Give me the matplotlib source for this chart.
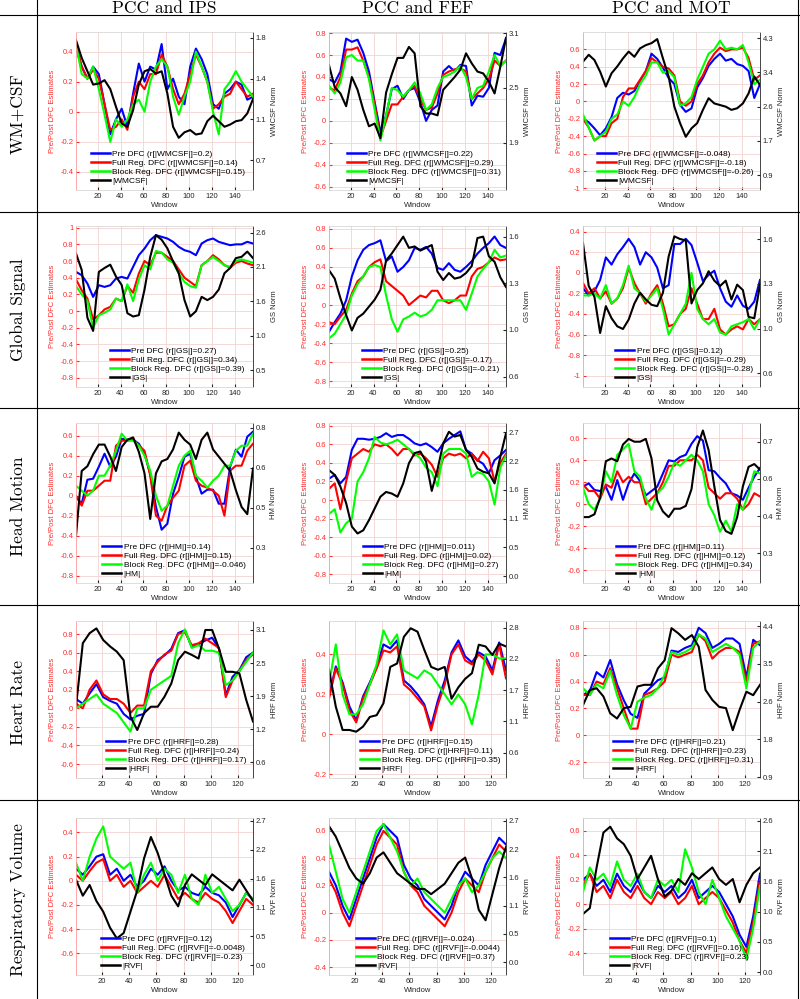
import numpy as np
import matplotlib.pyplot as plt
from matplotlib.lines import Line2D

# windows sampled every 5 steps
x_long = np.arange(1, 157, 5)    # rows 1-3 (156 windows)
x_short = np.arange(1, 132, 5)   # rows 4-5 (131 windows)

row_names = ["WM+CSF", "Global Signal", "Head Motion", "Heart Rate", "Respiratory Volume"]
col_names = ["PCC and IPS", "PCC and FEF", "PCC and MOT"]
reg_names = ["WMCSF", "GS", "HM", "HRF", "RVF"]

# r values shown in the legends: (pre, full reg., block reg.)
corr = [
    [("0.2", "0.14", "0.15"), ("0.22", "0.29", "0.31"), ("-0.048", "-0.18", "-0.26")],
    [("0.27", "0.34", "0.39"), ("0.25", "-0.17", "-0.21"), ("0.12", "-0.29", "-0.28")],
    [("0.14", "0.15", "-0.046"), ("0.011", "0.02", "0.27"), ("0.11", "0.12", "0.34")],
    [("0.28", "0.24", "0.17"), ("0.15", "0.11", "0.35"), ("0.21", "0.23", "0.31")],
    [("0.12", "-0.0048", "-0.23"), ("-0.024", "-0.0044", "0.37"), ("0.1", "0.16", "0.23")],
]

# ---- WM+CSF ----
wm_ips_pre = [0.42, 0.30, 0.22, 0.30, 0.25, 0.05, -0.15, -0.05, 0.02, -0.10, 0.12, 0.32, 0.20, 0.30, 0.28, 0.45,
              0.15, 0.22, 0.10, 0.05, 0.30, 0.42, 0.35, 0.25, 0.05, 0.02, 0.12, 0.15, 0.20, 0.18, 0.08, 0.10]
wm_ips_full = [0.45, 0.30, 0.22, 0.28, 0.22, 0.05, -0.12, -0.10, -0.05, -0.12, 0.10, 0.20, 0.15, 0.25, 0.25, 0.38,
               0.30, 0.15, 0.05, 0.12, 0.25, 0.38, 0.30, 0.20, 0.02, 0.05, 0.10, 0.12, 0.20, 0.15, 0.10, 0.12]
wm_ips_block = [0.45, 0.25, 0.22, 0.30, 0.15, -0.02, -0.20, -0.05, -0.10, -0.05, 0.05, 0.08, 0.00, 0.20, 0.30, 0.35,
                0.30, 0.10, -0.02, 0.10, 0.20, 0.40, 0.30, 0.20, 0.00, -0.15, 0.15, 0.20, 0.27, 0.20, 0.15, 0.10]
wm_ips_norm = [1.78, 1.62, 1.50, 1.38, 1.39, 1.42, 1.34, 1.18, 1.03, 1.00, 1.15, 1.38, 1.50, 1.52, 1.48, 1.50,
               1.30, 1.00, 0.90, 0.95, 0.97, 0.93, 0.94, 1.05, 1.10, 1.05, 1.00, 1.02, 1.05, 1.06, 1.12, 1.25]

wm_fef_pre = [0.38, 0.35, 0.45, 0.75, 0.72, 0.74, 0.62, 0.45, 0.17, -0.10, 0.05, 0.29, 0.32, 0.20, 0.28, 0.30,
              0.17, 0.00, 0.10, 0.14, 0.45, 0.50, 0.45, 0.51, 0.50, 0.14, 0.23, 0.22, 0.30, 0.62, 0.60, 0.75]
wm_fef_full = [0.30, 0.28, 0.40, 0.65, 0.65, 0.67, 0.55, 0.40, 0.15, -0.15, 0.00, 0.15, 0.15, 0.22, 0.28, 0.32,
               0.20, 0.10, 0.12, 0.25, 0.42, 0.45, 0.47, 0.48, 0.45, 0.20, 0.25, 0.30, 0.38, 0.55, 0.50, 0.55]
wm_fef_block = [0.32, 0.25, 0.35, 0.58, 0.60, 0.55, 0.55, 0.38, 0.10, -0.18, 0.05, 0.30, 0.28, 0.22, 0.28, 0.35,
                0.25, 0.10, 0.15, 0.30, 0.40, 0.42, 0.45, 0.50, 0.40, 0.20, 0.30, 0.32, 0.45, 0.60, 0.50, 0.55]
wm_fef_norm = [2.75, 2.51, 2.44, 2.30, 2.62, 2.48, 2.26, 2.08, 2.11, 1.95, 2.45, 2.65, 2.83, 2.83, 2.95, 2.88,
               2.30, 2.22, 2.22, 2.20, 2.48, 2.55, 2.62, 2.70, 2.88, 2.77, 2.68, 2.66, 2.57, 2.44, 2.73, 3.05]

wm_mot_pre = [-0.20, -0.24, -0.31, -0.39, -0.31, -0.18, 0.04, 0.10, 0.08, 0.12, 0.24, 0.35, 0.55, 0.49, 0.39, 0.27,
              0.20, -0.04, -0.12, -0.08, 0.16, 0.27, 0.41, 0.49, 0.55, 0.47, 0.49, 0.43, 0.41, 0.35, 0.04, 0.20]
wm_mot_full = [-0.20, -0.30, -0.45, -0.40, -0.40, -0.25, -0.20, 0.05, 0.15, 0.15, 0.25, 0.35, 0.50, 0.45, 0.40, 0.38,
               0.30, 0.00, -0.05, 0.00, 0.20, 0.30, 0.45, 0.55, 0.62, 0.58, 0.60, 0.60, 0.62, 0.50, 0.25, 0.30]
wm_mot_block = [-0.15, -0.30, -0.45, -0.40, -0.35, -0.20, -0.15, 0.00, -0.05, 0.05, 0.20, 0.30, 0.45, 0.45, 0.33, 0.35,
                0.28, -0.05, -0.02, 0.05, 0.25, 0.40, 0.55, 0.60, 0.70, 0.60, 0.62, 0.60, 0.65, 0.45, 0.20, 0.25]
wm_mot_norm = [3.72, 3.89, 3.76, 3.47, 3.10, 3.43, 3.60, 3.80, 3.97, 3.84, 4.05, 4.13, 4.18, 4.28, 3.80, 3.35,
               2.60, 2.19, 1.85, 2.06, 2.19, 2.52, 2.81, 2.68, 2.64, 2.60, 2.52, 2.56, 2.68, 2.93, 3.35, 3.14]

# ---- Global signal ----
gs_ips_pre = [0.47, 0.43, 0.33, 0.17, 0.31, 0.29, 0.31, 0.39, 0.41, 0.39, 0.53, 0.67, 0.75, 0.85, 0.91, 0.89,
              0.87, 0.83, 0.77, 0.73, 0.71, 0.67, 0.81, 0.85, 0.87, 0.83, 0.81, 0.79, 0.80, 0.80, 0.83, 0.81]
gs_ips_full = [0.38, 0.25, 0.15, -0.10, -0.05, 0.02, 0.05, 0.15, 0.12, 0.30, 0.22, 0.45, 0.60, 0.55, 0.70, 0.70,
               0.65, 0.60, 0.50, 0.40, 0.35, 0.30, 0.55, 0.60, 0.67, 0.62, 0.55, 0.52, 0.58, 0.60, 0.57, 0.55]
gs_ips_block = [0.30, 0.20, 0.12, -0.20, -0.05, -0.02, 0.02, 0.15, 0.12, 0.32, 0.12, 0.38, 0.55, 0.50, 0.72, 0.70,
                0.62, 0.58, 0.45, 0.35, 0.30, 0.28, 0.55, 0.60, 0.65, 0.60, 0.55, 0.53, 0.60, 0.62, 0.60, 0.58]
gs_ips_norm = [2.28, 2.03, 1.30, 1.10, 2.00, 2.06, 2.11, 1.93, 1.80, 1.37, 1.32, 1.34, 1.73, 2.23, 2.56, 2.49,
               2.36, 2.16, 1.98, 1.57, 1.32, 1.40, 1.62, 1.57, 1.62, 1.73, 1.98, 2.06, 2.21, 2.23, 2.31, 2.21]

gs_fef_pre = [-0.28, -0.18, -0.09, 0.05, 0.30, 0.47, 0.58, 0.63, 0.65, 0.68, 0.46, 0.51, 0.35, 0.40, 0.47, 0.60,
              0.58, 0.61, 0.54, 0.39, 0.37, 0.44, 0.37, 0.35, 0.40, 0.46, 0.54, 0.60, 0.65, 0.72, 0.63, 0.60]
gs_fef_full = [-0.18, -0.20, -0.12, -0.05, 0.12, 0.25, 0.30, 0.40, 0.45, 0.48, 0.25, 0.20, 0.15, 0.10, 0.00, 0.05,
               0.10, 0.08, 0.15, 0.15, 0.05, 0.02, 0.05, 0.10, 0.10, 0.30, 0.38, 0.40, 0.45, 0.50, 0.47, 0.48]
gs_fef_block = [-0.35, -0.30, -0.20, -0.10, 0.10, 0.22, 0.30, 0.40, 0.42, 0.40, 0.10, -0.15, -0.28, -0.15, -0.12, -0.08,
                -0.12, -0.10, -0.05, 0.05, 0.05, 0.05, 0.05, 0.05, -0.05, 0.12, 0.30, 0.38, 0.45, 0.58, 0.50, 0.52]
gs_fef_norm = [1.36, 1.30, 1.16, 1.04, 0.93, 1.02, 1.05, 1.10, 1.15, 1.22, 1.43, 1.48, 1.54, 1.60, 1.52, 1.53,
               1.50, 1.52, 1.54, 1.35, 1.29, 1.34, 1.30, 1.31, 1.34, 1.39, 1.59, 1.60, 1.46, 1.42, 1.31, 1.24]

gs_mot_pre = [-0.15, -0.22, -0.18, -0.07, 0.15, 0.08, 0.18, 0.25, 0.33, 0.25, 0.08, 0.20, 0.15, 0.05, -0.15, -0.12,
              0.28, 0.28, 0.33, 0.27, 0.10, -0.08, -0.02, 0.02, -0.15, -0.28, -0.33, -0.22, -0.32, -0.35, -0.28, -0.07]
gs_mot_full = [-0.10, -0.20, -0.15, -0.25, -0.18, -0.30, -0.25, -0.15, 0.05, -0.10, -0.20, -0.30, -0.20, -0.12, -0.30, -0.52,
               -0.50, -0.40, -0.35, -0.15, -0.30, -0.45, -0.45, -0.35, -0.55, -0.60, -0.55, -0.52, -0.55, -0.45, -0.50, -0.45]
gs_mot_block = [-0.22, -0.22, -0.20, -0.25, -0.12, -0.30, -0.25, -0.12, 0.07, -0.15, -0.20, -0.28, -0.22, -0.15, -0.35, -0.60,
                -0.50, -0.40, -0.30, 0.00, -0.35, -0.45, -0.50, -0.45, -0.58, -0.60, -0.52, -0.50, -0.48, -0.45, -0.55, -0.45]
gs_mot_norm = [1.57, 1.25, 1.17, 0.90, 1.10, 1.01, 0.95, 0.93, 1.00, 1.12, 1.20, 1.15, 1.11, 1.10, 1.20, 1.47,
               1.62, 1.60, 1.59, 1.12, 1.22, 1.27, 1.36, 1.29, 1.25, 1.29, 1.15, 1.26, 1.22, 1.02, 1.01, 1.26]

# ---- Head motion ----
hm_ips_pre = [-0.01, -0.08, 0.16, 0.17, 0.29, 0.42, 0.29, 0.39, 0.57, 0.56, 0.56, 0.52, 0.42, 0.22, -0.11, -0.34,
              -0.28, 0.02, 0.19, 0.39, 0.42, 0.19, 0.02, 0.06, 0.06, -0.08, -0.08, 0.29, 0.46, 0.39, 0.59, 0.64]
hm_ips_full = [0.00, -0.10, 0.05, 0.05, 0.10, 0.15, 0.15, 0.50, 0.55, 0.55, 0.57, 0.50, 0.45, 0.20, -0.20, -0.25,
               -0.10, -0.02, 0.05, 0.30, 0.35, 0.15, 0.10, 0.08, 0.05, 0.00, -0.20, 0.25, 0.30, 0.30, 0.45, 0.52]
hm_ips_block = [0.10, 0.05, 0.00, 0.05, 0.20, 0.20, 0.30, 0.45, 0.62, 0.55, 0.55, 0.50, 0.40, 0.25, 0.00, -0.15,
                -0.10, 0.10, 0.30, 0.40, 0.45, 0.20, 0.15, 0.08, 0.15, 0.20, 0.30, 0.30, 0.45, 0.50, 0.50, 0.62]
hm_ips_norm = [0.35, 0.62, 0.64, 0.69, 0.73, 0.73, 0.68, 0.62, 0.72, 0.75, 0.76, 0.70, 0.61, 0.42, 0.61, 0.66,
               0.67, 0.71, 0.78, 0.75, 0.73, 0.67, 0.75, 0.78, 0.71, 0.68, 0.65, 0.62, 0.54, 0.47, 0.44, 0.63]

hm_fef_pre = [0.23, 0.27, 0.18, 0.25, 0.54, 0.66, 0.66, 0.65, 0.66, 0.68, 0.72, 0.68, 0.70, 0.70, 0.66, 0.61,
              0.59, 0.61, 0.57, 0.52, 0.61, 0.66, 0.70, 0.74, 0.54, 0.50, 0.43, 0.39, 0.29, 0.43, 0.48, 0.54]
hm_fef_full = [0.12, 0.18, -0.10, 0.20, 0.45, 0.50, 0.55, 0.52, 0.60, 0.58, 0.60, 0.55, 0.48, 0.55, 0.55, 0.48,
               0.50, 0.45, 0.38, 0.25, 0.45, 0.50, 0.48, 0.50, 0.45, 0.50, 0.42, 0.52, 0.45, 0.20, 0.40, 0.50]
hm_fef_block = [-0.15, -0.10, -0.35, -0.25, -0.20, 0.20, 0.30, 0.45, 0.68, 0.62, 0.60, 0.62, 0.65, 0.60, 0.55, 0.50,
                0.45, 0.35, 0.30, 0.15, 0.50, 0.55, 0.55, 0.55, 0.50, 0.25, 0.30, 0.28, 0.20, -0.05, 0.35, 0.48]
hm_fef_norm = [1.99, 1.90, 1.68, 1.37, 0.93, 0.80, 0.86, 1.05, 1.27, 1.49, 1.58, 1.55, 1.49, 1.74, 2.12, 2.31,
               2.34, 2.15, 1.60, 2.00, 2.49, 2.71, 2.62, 2.65, 2.37, 2.24, 2.02, 1.96, 1.93, 1.74, 2.24, 2.68]

hm_mot_pre = [0.16, 0.19, 0.13, 0.12, 0.16, 0.04, 0.22, 0.04, 0.19, 0.28, 0.21, 0.08, 0.12, 0.16, 0.28, 0.40,
              0.39, 0.43, 0.45, 0.55, 0.62, 0.58, 0.31, 0.30, 0.24, 0.19, 0.10, 0.08, 0.04, 0.15, 0.25, 0.33]
hm_mot_full = [0.18, 0.12, 0.12, 0.05, 0.18, 0.15, 0.30, 0.20, 0.25, 0.20, 0.20, 0.00, 0.05, 0.10, 0.20, 0.35,
               0.35, 0.40, 0.40, 0.40, 0.45, 0.40, 0.15, 0.10, 0.05, 0.10, 0.10, 0.05, -0.05, 0.00, 0.10, 0.07]
hm_mot_block = [0.15, 0.00, -0.05, 0.05, 0.30, 0.20, 0.45, 0.50, 0.55, 0.30, 0.25, 0.05, -0.05, 0.10, 0.15, 0.25,
                0.38, 0.35, 0.40, 0.45, 0.40, 0.30, 0.00, -0.10, -0.25, -0.15, -0.25, 0.00, -0.05, 0.10, 0.30, 0.28]
hm_mot_norm = [0.43, 0.43, 0.44, 0.50, 0.63, 0.64, 0.63, 0.69, 0.71, 0.70, 0.70, 0.71, 0.64, 0.49, 0.45, 0.43,
               0.46, 0.46, 0.47, 0.53, 0.68, 0.74, 0.67, 0.54, 0.42, 0.38, 0.37, 0.43, 0.54, 0.61, 0.62, 0.60]

# ---- Heart rate ----
hr_ips_pre = [0.10, 0.05, 0.16, 0.26, 0.12, 0.08, 0.05, -0.06, -0.12, -0.08, -0.06, 0.37, 0.52, 0.57, 0.64, 0.81,
              0.84, 0.66, 0.69, 0.73, 0.76, 0.64, 0.14, 0.34, 0.41, 0.55, 0.60]
hr_ips_full = [0.05, 0.00, 0.20, 0.30, 0.15, 0.10, 0.10, 0.05, -0.05, 0.03, 0.03, 0.40, 0.50, 0.58, 0.62, 0.80,
               0.82, 0.68, 0.70, 0.75, 0.70, 0.65, 0.12, 0.30, 0.40, 0.52, 0.58]
hr_ips_block = [0.00, 0.05, 0.10, 0.15, 0.05, 0.00, -0.05, -0.15, -0.25, 0.00, 0.00, 0.20, 0.25, 0.30, 0.35, 0.70,
                0.85, 0.65, 0.68, 0.62, 0.62, 0.60, 0.25, 0.30, 0.40, 0.50, 0.60]
hr_ips_norm = [1.65, 2.85, 3.04, 3.13, 2.91, 2.79, 2.69, 2.53, 1.46, 1.21, 1.53, 1.65, 1.65, 1.84, 2.09, 2.53,
               2.69, 2.63, 2.56, 3.10, 3.10, 2.75, 2.31, 2.31, 2.28, 1.78, 1.37]

hr_fef_pre = [0.19, 0.34, 0.26, 0.14, 0.07, 0.19, 0.26, 0.34, 0.45, 0.43, 0.47, 0.27, 0.24, 0.20, 0.15, 0.04,
              0.17, 0.27, 0.41, 0.47, 0.39, 0.36, 0.41, 0.39, 0.32, 0.46, 0.32]
hr_fef_full = [0.18, 0.33, 0.25, 0.12, 0.06, 0.18, 0.25, 0.33, 0.42, 0.41, 0.44, 0.25, 0.22, 0.18, 0.14, 0.02,
               0.15, 0.25, 0.40, 0.45, 0.37, 0.35, 0.40, 0.37, 0.30, 0.45, 0.28]
hr_fef_block = [0.25, 0.45, 0.20, 0.10, 0.10, 0.15, 0.25, 0.35, 0.52, 0.45, 0.50, 0.32, 0.30, 0.28, 0.32, 0.30,
                0.25, 0.20, 0.15, 0.20, 0.15, 0.05, 0.20, 0.40, 0.40, 0.38, 0.38]
hr_fef_norm = [2.06, 1.41, 1.00, 1.00, 0.97, 1.06, 1.23, 1.26, 1.47, 2.11, 2.17, 2.64, 2.79, 2.73, 2.41, 2.11,
               2.06, 2.11, 1.55, 1.75, 1.90, 2.00, 2.50, 2.47, 2.32, 2.52, 2.47]

hr_mot_pre = [0.30, 0.33, 0.47, 0.43, 0.56, 0.38, 0.26, 0.16, 0.13, 0.31, 0.36, 0.41, 0.43, 0.63, 0.62, 0.65,
              0.67, 0.80, 0.76, 0.65, 0.68, 0.72, 0.72, 0.68, 0.43, 0.71, 0.67]
hr_mot_full = [0.30, 0.30, 0.40, 0.38, 0.50, 0.35, 0.20, 0.05, 0.05, 0.30, 0.32, 0.35, 0.40, 0.60, 0.58, 0.60,
               0.62, 0.75, 0.70, 0.57, 0.62, 0.65, 0.65, 0.62, 0.40, 0.68, 0.70]
hr_mot_block = [0.35, 0.30, 0.38, 0.35, 0.48, 0.30, 0.15, 0.05, 0.25, 0.28, 0.30, 0.35, 0.45, 0.62, 0.60, 0.62,
                0.65, 0.75, 0.72, 0.62, 0.65, 0.68, 0.65, 0.60, 0.35, 0.65, 0.70]
hr_mot_norm = [2.57, 2.92, 2.96, 2.77, 2.38, 2.26, 2.50, 2.53, 3.00, 3.04, 3.04, 3.42, 3.61, 4.35, 4.23, 4.08,
               4.19, 3.92, 2.92, 2.69, 2.53, 2.50, 1.99, 2.46, 2.88, 2.80, 3.04]

# ---- Respiratory volume ----
rv_ips_pre = [0.10, 0.05, 0.12, 0.20, 0.22, 0.05, 0.10, 0.00, 0.05, -0.05, 0.00, 0.10, 0.05, 0.12, 0.00, -0.08,
              -0.05, -0.10, -0.12, -0.05, -0.10, -0.12, -0.18, -0.30, -0.20, -0.10, -0.15]
rv_ips_full = [0.05, 0.00, 0.08, 0.15, 0.18, 0.00, 0.05, -0.05, 0.00, -0.10, -0.05, 0.00, -0.05, 0.05, -0.05, -0.15,
               -0.10, -0.15, -0.18, -0.10, -0.15, -0.18, -0.25, -0.35, -0.25, -0.15, -0.20]
rv_ips_block = [0.15, 0.00, 0.20, 0.35, 0.45, 0.20, 0.15, 0.10, 0.15, -0.10, 0.05, 0.15, 0.00, 0.10, 0.05, -0.10,
                0.05, -0.15, -0.20, 0.05, -0.10, -0.05, -0.15, -0.25, -0.20, -0.10, -0.15]
rv_ips_norm = [1.60, 1.30, 1.50, 1.20, 1.00, 0.70, 0.50, 0.60, 1.00, 1.40, 2.00, 2.40, 2.10, 1.70, 1.30, 1.10,
               1.50, 1.70, 1.60, 1.50, 1.70, 1.60, 1.50, 1.40, 1.60, 1.40, 1.20]

rv_fef_pre = [0.30, 0.20, 0.05, -0.05, 0.10, 0.25, 0.40, 0.55, 0.65, 0.60, 0.55, 0.35, 0.25, 0.20, 0.10, 0.05,
              0.00, -0.05, 0.05, 0.20, 0.30, 0.25, 0.20, 0.35, 0.45, 0.55, 0.50]
rv_fef_full = [0.25, 0.15, 0.00, -0.10, 0.05, 0.20, 0.35, 0.50, 0.60, 0.55, 0.50, 0.30, 0.20, 0.15, 0.05, 0.00,
               -0.05, -0.10, 0.00, 0.15, 0.25, 0.20, 0.15, 0.30, 0.40, 0.50, 0.45]
rv_fef_block = [0.50, 0.30, 0.10, 0.00, 0.15, 0.30, 0.45, 0.60, 0.65, 0.55, 0.45, 0.30, 0.20, 0.25, 0.15, 0.10,
                0.05, 0.00, 0.10, 0.20, 0.25, 0.15, 0.20, 0.30, 0.40, 0.45, 0.40]
rv_fef_norm = [2.60, 2.40, 2.10, 1.80, 1.60, 1.50, 1.70, 2.00, 2.10, 1.90, 1.70, 1.60, 1.50, 1.40, 1.40, 1.30,
               1.40, 1.50, 1.70, 1.90, 2.00, 1.60, 1.00, 0.80, 1.30, 1.80, 2.20]

rv_mot_pre = [0.20, 0.25, 0.15, 0.20, 0.10, 0.25, 0.15, 0.10, 0.20, 0.10, 0.05, 0.15, 0.10, 0.15, 0.05, 0.10,
              0.20, 0.05, 0.10, 0.15, 0.10, 0.00, -0.10, -0.25, -0.35, -0.10, 0.25]
rv_mot_full = [0.15, 0.25, 0.10, 0.15, 0.05, 0.20, 0.10, 0.05, 0.15, 0.05, 0.00, 0.10, 0.05, 0.10, 0.00, 0.05,
               0.15, 0.00, 0.05, 0.10, 0.05, -0.05, -0.15, -0.30, -0.40, -0.15, 0.20]
rv_mot_block = [0.10, 0.30, 0.20, 0.25, 0.15, 0.35, 0.20, 0.15, 0.25, 0.10, 0.05, 0.20, 0.15, 0.20, 0.10, 0.45,
                0.30, 0.10, 0.00, 0.20, 0.05, -0.10, -0.20, -0.30, -0.45, -0.20, 0.15]
rv_mot_norm = [1.00, 1.10, 1.80, 2.40, 2.50, 2.30, 2.20, 2.00, 1.60, 1.80, 2.00, 1.60, 1.30, 1.40, 1.60, 1.50,
               1.70, 1.60, 1.70, 1.80, 1.60, 1.50, 1.60, 1.20, 1.50, 1.70, 1.80]

series = [
    [(wm_ips_pre, wm_ips_full, wm_ips_block, wm_ips_norm),
     (wm_fef_pre, wm_fef_full, wm_fef_block, wm_fef_norm),
     (wm_mot_pre, wm_mot_full, wm_mot_block, wm_mot_norm)],
    [(gs_ips_pre, gs_ips_full, gs_ips_block, gs_ips_norm),
     (gs_fef_pre, gs_fef_full, gs_fef_block, gs_fef_norm),
     (gs_mot_pre, gs_mot_full, gs_mot_block, gs_mot_norm)],
    [(hm_ips_pre, hm_ips_full, hm_ips_block, hm_ips_norm),
     (hm_fef_pre, hm_fef_full, hm_fef_block, hm_fef_norm),
     (hm_mot_pre, hm_mot_full, hm_mot_block, hm_mot_norm)],
    [(hr_ips_pre, hr_ips_full, hr_ips_block, hr_ips_norm),
     (hr_fef_pre, hr_fef_full, hr_fef_block, hr_fef_norm),
     (hr_mot_pre, hr_mot_full, hr_mot_block, hr_mot_norm)],
    [(rv_ips_pre, rv_ips_full, rv_ips_block, rv_ips_norm),
     (rv_fef_pre, rv_fef_full, rv_fef_block, rv_fef_norm),
     (rv_mot_pre, rv_mot_full, rv_mot_block, rv_mot_norm)],
]

# left axis: limits and first/last tick
left_lim = [
    [(-0.52, 0.53), (-0.63, 0.81), (-1.02, 0.80)],
    [(-0.91, 1.02), (-0.86, 0.83), (-1.11, 0.455)],
    [(-0.873, 0.727), (-0.894, 0.83), (-0.718, 0.74)],
    [(-0.75, 0.94), (-0.218, 0.567), (-0.317, 0.85)],
    [(-0.78, 0.52), (-0.458, 0.695), (-0.58, 0.706)],
]
left_ticks = [
    [(-0.4, 0.4), (-0.6, 0.8), (-1.0, 0.6)],
    [(-0.8, 1.0), (-0.8, 0.8), (-1.0, 0.4)],
    [(-0.8, 0.6), (-0.8, 0.8), (-0.6, 0.6)],
    [(-0.6, 0.8), (-0.2, 0.4), (-0.2, 0.8)],
    [(-0.6, 0.4), (-0.4, 0.6), (-0.4, 0.6)],
]
# right axis: limits and tick labels
right_lim = [
    [(0.43, 1.854), (1.381, 3.114), (0.527, 4.457)],
    [(0.245, 2.70), (0.526, 1.676), (0.498, 1.697)],
    [(0.153, 0.82), (-0.13, 2.875), (0.194, 0.767)],
    [(0.303, 3.27), (0.155, 2.918), (0.884, 4.516)],
    [(-0.186, 2.756), (-0.247, 2.757), (-0.05, 2.65)],
]
right_labels = [
    [["0.7", "1.1", "1.4", "1.8"], ["1.9", "2.5", "3.1"], ["0.9", "1.7", "2.6", "3.4", "4.3"]],
    [["0.5", "1.0", "1.6", "2.1", "2.6"], ["0.6", "1.0", "1.3", "1.6"], ["0.6", "1.0", "1.3", "1.6"]],
    [["0.3", "0.5", "0.6", "0.8"], ["0.0", "0.5", "1.1", "1.6", "2.2", "2.7"], ["0.3", "0.4", "0.6", "0.7"]],
    [["0.6", "1.2", "1.9", "2.5", "3.1"], ["0.6", "1.1", "1.7", "2.2", "2.8"], ["0.9", "1.8", "2.6", "3.5", "4.4"]],
    [["0.0", "0.5", "1.1", "1.6", "2.2", "2.7"], ["0.0", "0.5", "1.1", "1.6", "2.2", "2.7"],
     ["0.0", "0.5", "1.0", "1.6", "2.1", "2.6"]],
]
legend_x = [[0.083, 0.10, 0.077], [0.19, 0.185, 0.18], [0.146, 0.19, 0.187],
            [0.17, 0.175, 0.17], [0.14, 0.15, 0.15]]

# page layout in pixels
W, H = 800, 999
col_left = [76, 329, 583]
col_w = 177
row_top = [32, 226, 423, 621, 818]
row_bot = [190, 387, 583, 778, 975]
row_lines = [15, 212, 408, 605, 800]

plt.rcParams['font.family'] = ['Liberation Sans', 'DejaVu Sans']
fig = plt.figure(figsize=(W / 100, H / 100), dpi=100)

red_txt = '#ff2a2a'
grid_c = '#f3d2d2'
lw = 1.5

for r in range(5):
    x = x_long if r < 3 else x_short
    for c in range(3):
        pre, full, block, norm = series[r][c]
        l, t, b = col_left[c], row_top[r], row_bot[r]
        ax = fig.add_axes([l / W, 1 - b / H, col_w / W, (b - t) / H])
        ax2 = ax.twinx()

        h1, = ax.plot(x, pre, color='#0000ff', lw=lw)
        h2, = ax.plot(x, full, color='#ff0000', lw=lw)
        h3, = ax.plot(x, block, color='#00ff00', lw=lw)
        h4, = ax2.plot(x, norm, color='k', lw=lw)

        ax.set_xlim(1, x[-1])
        ax.set_xticks(np.arange(20, x[-1], 20))
        ax.set_ylim(*left_lim[r][c])
        lo, hi = left_ticks[r][c]
        yt = np.round(np.arange(lo, hi + 1e-6, 0.2), 1) + 0.0
        ax.set_yticks(yt)
        ax.set_yticklabels([f"{v:g}" for v in yt])
        ax.grid(True, color=grid_c, lw=0.6)
        ax.tick_params(axis='y', colors=red_txt, labelsize=5.5, direction='in', length=2, pad=2)
        ax.tick_params(axis='x', colors='#262626', labelsize=5.5, direction='in', length=2, pad=2)
        ax.set_ylabel("Pre/Post DFC Estimates", color=red_txt, fontsize=5.5, labelpad=3)
        ax.set_xlabel("Window", color='#262626', fontsize=5.5, labelpad=1.5)

        labs = right_labels[r][c]
        ax2.set_ylim(*right_lim[r][c])
        ax2.set_yticks(np.linspace(float(labs[0]), float(labs[-1]), len(labs)))
        ax2.set_yticklabels(labs)
        ax2.tick_params(axis='y', colors='#262626', labelsize=5.5, direction='in', length=2, pad=2)
        ax2.set_ylabel(f"{reg_names[r]} Norm", color='#262626', fontsize=5.5, labelpad=3)

        for s in ax.spines.values():
            s.set_visible(False)
        ax2.spines['left'].set_color('#ff9a9a')
        ax2.spines['right'].set_color('#262626')
        ax2.spines['top'].set_color('#d8d8d8')
        ax2.spines['bottom'].set_color('#d8d8d8')
        for s in ax2.spines.values():
            s.set_linewidth(0.6)

        reg = reg_names[r]
        cr = corr[r][c]
        labels = [f"Pre DFC (r[|{reg}|]={cr[0]})",
                  f"Full Reg. DFC (r[|{reg}|]={cr[1]})",
                  f"Block Reg. DFC (r[|{reg}|]={cr[2]})",
                  f"|{reg}|"]
        leg = ax2.legend([h1, h2, h3, h4], labels, loc='lower left', bbox_to_anchor=(legend_x[r][c], 0.03),
                         frameon=False, fontsize=6, handlelength=2.3, handletextpad=0.3,
                         labelspacing=0.15, borderpad=0, borderaxespad=0)
        for hl in leg.get_lines():
            hl.set_linewidth(1.8)

# column headers and row labels
for c in range(3):
    fig.text((col_left[c] + col_w / 2) / W, 1 - 12.7 / H, col_names[c], family='cmr10',
             fontsize=12.5, ha='center', va='baseline')
for r in range(5):
    top = row_lines[r]
    bot = row_lines[r + 1] if r < 4 else H
    fig.text(18 / W, 1 - (top + bot) / 2 / H, row_names[r], family='cmr10', fontsize=12.5,
             rotation=90, ha='center', va='center')

# table rules
fig.add_artist(Line2D([37 / W, 37 / W], [0, 1], transform=fig.transFigure, color='k', lw=0.8))
fig.add_artist(Line2D([798 / W, 798 / W], [0, 1], transform=fig.transFigure, color='k', lw=0.8))
for y in row_lines:
    fig.add_artist(Line2D([0, 1], [1 - y / H, 1 - y / H], transform=fig.transFigure, color='k', lw=0.8))

fig.savefig("out.png", dpi=100)
